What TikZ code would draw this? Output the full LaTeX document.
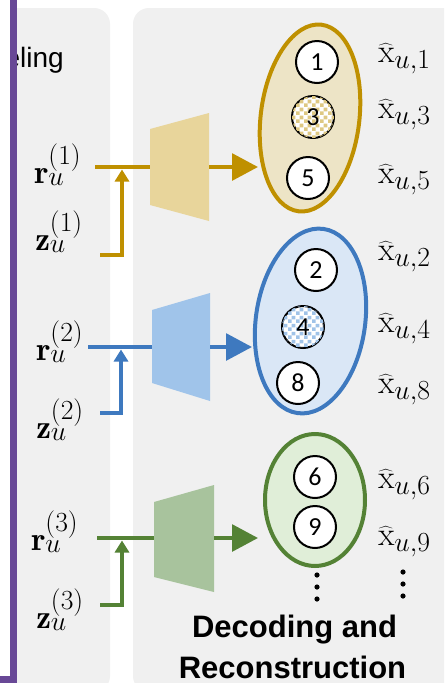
\documentclass[tikz,border=0pt]{standalone}
\usepackage{fontspec}
\newfontfamily\carl{Carlito}
\newfontfamily\arl{Liberation Sans}
\usetikzlibrary{arrows.meta,shapes.geometric,patterns.meta}
\definecolor{goldline}{RGB}{191,144,0}
\definecolor{goldtrap}{RGB}{232,213,155}
\definecolor{goldell}{RGB}{237,228,198}
\definecolor{goldchk}{RGB}{222,200,130}
\definecolor{blueline}{RGB}{62,121,191}
\definecolor{bluetrap}{RGB}{160,196,234}
\definecolor{blueell}{RGB}{218,231,246}
\definecolor{bluechk}{RGB}{160,195,232}
\definecolor{greenline}{RGB}{84,130,53}
\definecolor{greentrap}{RGB}{168,195,157}
\definecolor{greenell}{RGB}{224,238,216}
\definecolor{panelgray}{RGB}{240,240,240}
\definecolor{barpurple}{RGB}{104,72,150}
\tikzdeclarepattern{
  name=bigcheck,
  type=uncolored,
  bounding box={(0pt,0pt) and (6pt,6pt)},
  tile size={(6pt,6pt)},
  code={
    \fill (0pt,0pt) rectangle (3pt,3pt);
    \fill (3pt,3pt) rectangle (6pt,6pt);
  }
}
\begin{document}
\begin{tikzpicture}[x=0.75pt,y=-0.75pt,
  conn/.style={line width=3pt},
  hhead/.style={-{Triangle[length=19.5pt,width=20pt]}},
  vhead/.style={-{Triangle[length=9pt,width=10.5pt]}},
  mlabel/.style={anchor=base west,inner sep=0pt,font=\fontsize{24.88}{30}\selectfont},
  numc/.style={circle,draw=black,line width=1.5pt,fill=white,minimum size=31.5pt,inner sep=0pt,font=\carl\fontsize{19.5}{20}\selectfont},
  ellbox/.style={ellipse,line width=3pt,inner sep=0pt},
  vdot/.style={fill=black},
  title/.style={inner sep=0pt,font=\arl\bfseries\fontsize{23.25}{28}\selectfont}]
\useasboundingbox (0,0) rectangle (444,683);
\clip (0,0) rectangle (444,683);
\fill[white] (0,0) rectangle (444,683);
% panels
\fill[panelgray,rounded corners=12pt] (-40,8) rectangle (110,692);
\fill[panelgray,rounded corners=12pt] (133,8) rectangle (480,692);
\node[anchor=base east,inner sep=0pt,font=\arl\fontsize{21}{25}\selectfont] (mtitle) at (64,67) {eling};
\fill[white] (0,0) rectangle (11,683);
\draw[barpurple,line width=5.25pt] (13.5,-10) -- (13.5,679.5) -- (-10,679.5);

% ---------- group 1 (gold)
\fill[goldtrap] (150,129) -- (209,113) -- (209,221) -- (150,205) -- cycle;
\coordinate (t1l) at (150,167);
\coordinate (t1r) at (209,167);
\node[mlabel] (r1) at (34,183) {$\mathbf{r}_u^{(1)}$};
\node[mlabel] (z1) at (35,250) {$\mathbf{z}_u^{(1)}$};
\coordinate (r1o) at (95,167);
\coordinate (z1o) at (100,255);
\coordinate (j1) at (122,169.5);
\coordinate (a1) at (258,167);
\draw[conn,goldline] (r1o) -- (t1l);
\draw[conn,goldline,vhead] (z1o) -| (j1);
\node[ellbox,draw=goldline,fill=goldell,minimum width=74pt,minimum height=141pt,rotate=-7] (e1) at (310,118) {};
\draw[conn,goldline,hhead] (t1r) -- (a1);
\node[numc] (c1) at (317,62) {1};
\node[numc,postaction={pattern=bigcheck,pattern color=goldchk}] (c3) at (313,117) {3};
\node[numc] (c5) at (308,178) {5};
\node[mlabel] (x1) at (378,62) {$\widehat{\mathrm{x}}_{u,1}$};
\node[mlabel] (x3) at (378,118) {$\widehat{\mathrm{x}}_{u,3}$};
\node[mlabel] (x5) at (378,183) {$\widehat{\mathrm{x}}_{u,5}$};

% ---------- group 2 (blue)
\fill[bluetrap] (152,310) -- (210,293) -- (210,401) -- (152,383) -- cycle;
\coordinate (t2l) at (152,347);
\coordinate (t2r) at (210,347);
\node[mlabel] (r2) at (36,360) {$\mathbf{r}_u^{(2)}$};
\node[mlabel] (z2) at (36,438) {$\mathbf{z}_u^{(2)}$};
\coordinate (r2o) at (88,347);
\coordinate (z2o) at (100,413);
\coordinate (j2) at (121,349.5);
\coordinate (a2) at (252,347);
\draw[conn,blueline] (r2o) -- (t2l);
\draw[conn,blueline,vhead] (z2o) -| (j2);
\node[ellbox,draw=blueline,fill=blueell,minimum width=82pt,minimum height=139.5pt,rotate=-8] (e2) at (310.5,321) {};
\draw[conn,blueline,hhead] (t2r) -- (a2);
\node[numc] (c2) at (316,270) {2};
\node[numc,postaction={pattern=bigcheck,pattern color=bluechk}] (c4) at (303,327) {4};
\node[numc] (c8) at (298,383) {8};
\node[mlabel] (x2) at (378,260) {$\widehat{\mathrm{x}}_{u,2}$};
\node[mlabel] (x4) at (378,332) {$\widehat{\mathrm{x}}_{u,4}$};
\node[mlabel] (x8) at (378,393) {$\widehat{\mathrm{x}}_{u,8}$};

% ---------- group 3 (green)
\fill[greentrap] (154,502) -- (214,485) -- (214,592) -- (154,577) -- cycle;
\coordinate (t3l) at (154,538);
\coordinate (t3r) at (214,538);
\node[mlabel] (r3) at (31,550) {$\mathbf{r}_u^{(3)}$};
\node[mlabel] (z3) at (36,628) {$\mathbf{z}_u^{(3)}$};
\coordinate (r3o) at (97,538);
\coordinate (z3o) at (100,605);
\coordinate (j3) at (122,540.5);
\coordinate (a3) at (258,538);
\draw[conn,greenline] (r3o) -- (t3l);
\draw[conn,greenline,vhead] (z3o) -| (j3);
\node[ellbox,draw=greenline,fill=greenell,minimum width=75pt,minimum height=99pt] (e3) at (315,500) {};
\draw[conn,greenline,hhead] (t3r) -- (a3);
\node[numc] (c6) at (315,477) {6};
\node[numc] (c9) at (315,527) {9};
\node[mlabel] (x6) at (378,488) {$\widehat{\mathrm{x}}_{u,6}$};
\node[mlabel] (x9) at (378,545) {$\widehat{\mathrm{x}}_{u,9}$};

% dots
\fill[vdot] (317,575) circle (2.6);
\fill[vdot] (317,587) circle (2.6);
\fill[vdot] (317,599) circle (2.6);
\fill[vdot] (403,572) circle (2.6);
\fill[vdot] (403,584) circle (2.6);
\fill[vdot] (403,596) circle (2.6);

% caption
\node[title,anchor=base] (capa) at (294.5,637) {Decoding and};
\node[title,anchor=base] (capb) at (292.5,678) {Reconstruction};
\end{tikzpicture}
\end{document}
